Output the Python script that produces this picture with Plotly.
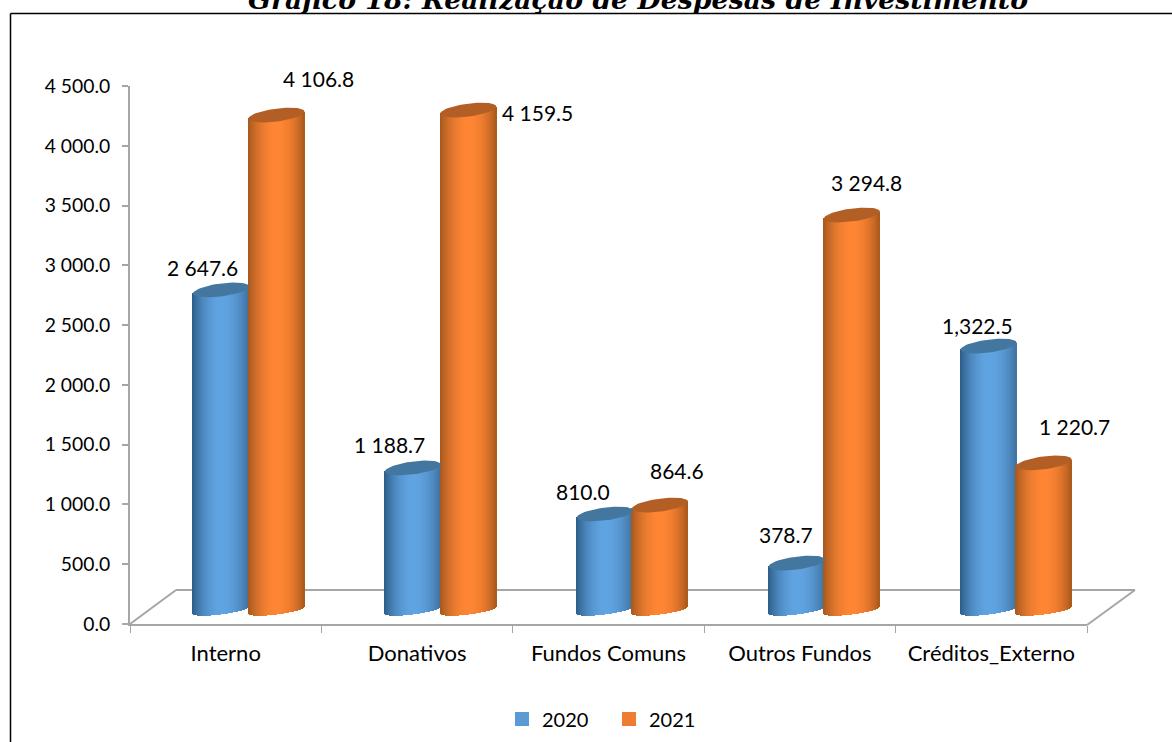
import math
import plotly.graph_objects as go

categories = ["Interno", "Donativos", "Fundos Comuns", "Outros Fundos", "Créditos_Externo"]
series_names = ["2020", "2021"]
heights_2020 = [2677, 1188, 803, 393, 2208]
heights_2021 = [4140, 4182, 878, 3304, 1230]
labels_2020 = ["2 647.6", "1 188.7", "810.0", "378.7", "1,322.5"]
labels_2021 = ["4 106.8", "4 159.5", "864.6", "3 294.8", "1 220.7"]
label_shift_2020 = [(-19, 22), (-23, 23), (-21, 23), (-9, 29), (-9, 21)]
label_shift_2021 = [(42, 37), (70, -2), (18, 35), (16, 33), (32, 36)]
y_ticks = [0, 500, 1000, 1500, 2000, 2500, 3000, 3500, 4000, 4500]
y_tick_text = ["0.0", "500.0", "1 000.0", "1 500.0", "2 000.0", "2 500.0", "3 000.0", "3 500.0", "4 000.0", "4 500.0"]

W, H = 1172, 742
L, R, T, B = 130, 1087, 86, 624
DX = 5 / (R - L)
DY = 4500 / (B - T)
FLOOR = 117
RX, RY, RY_BOTTOM, TILT = 28, 6.5, 4.5, 3.5
OFFS = [91.0, 146.5]
DRIFT = [0.5, 0.4]
DARKL = [(0x2e, 0x5c, 0x88), (0xa5, 0x58, 0x1f)]
DARKR = [(0x3a, 0x68, 0x94), (0x98, 0x50, 0x18)]
MID = [(0x60, 0xa4, 0xe2), (0xff, 0x86, 0x34)]
CAP = ["#44779f", "#b35e24"]
LEG = ["#5b9bd5", "#ed7d31"]
FONT = "Lato"
GREY = "#a6a6a6"


def shade(t, s):
    d = abs(t - 0.05) / 1.05
    f = min(1.0, d ** 2.0)
    e = DARKL[s] if t < 0.05 else DARKR[s]
    return "rgb(%d,%d,%d)" % tuple(MID[s][k] + (e[k] - MID[s][k]) * f for k in range(3))


fig = go.Figure()
anns = []
heights = [heights_2020, heights_2021]
labels = [labels_2020, labels_2021]
shifts = [label_shift_2020, label_shift_2021]

for s in range(2):
    xs, ys, bases, cols = [], [], [], []
    capx, capy = [], []
    for i in range(5):
        cx = i + (OFFS[s] + DRIFT[s] * i) * DX
        h = heights[s][i]
        top = FLOOR + h
        for j in range(2 * RX):
            t = (j + 0.5 - RX) / RX
            low = FLOOR + (TILT * t - RY_BOTTOM * math.sqrt(max(0, 1 - t * t))) * DY
            high = top + TILT * t * DY
            xs.append(cx + t * RX * DX)
            bases.append(low)
            ys.append(high - low)
            cols.append(shade(t, s))
        for a in range(61):
            th = 2 * math.pi * a / 60
            capx.append(cx + RX * math.cos(th) * DX)
            capy.append(top + (RY * math.sin(th) + TILT * math.cos(th)) * DY)
        capx.append(None)
        capy.append(None)
        anns.append(dict(x=i + OFFS[s] * DX, y=top, text=labels[s][i], showarrow=False,
                         xshift=shifts[s][i][0], yshift=shifts[s][i][1],
                         font=dict(family=FONT, size=21, color="#000")))
    fig.add_trace(go.Bar(x=xs, y=ys, base=bases, width=1.6 * DX, showlegend=False,
                         hoverinfo="skip",
                         marker=dict(color=cols, line=dict(width=0))))
    fig.add_trace(go.Scatter(x=capx, y=capy, mode="lines", fill="toself", fillcolor=CAP[s],
                             line=dict(width=0, color=CAP[s]), showlegend=False, hoverinfo="skip"))

for s in range(2):
    fig.add_trace(go.Scatter(x=[None], y=[None], mode="markers", name=series_names[s],
                             marker=dict(symbol="square", size=14, color=LEG[s])))


def px(x):
    return (x - L) / (R - L)


def py(y):
    return (B - y) / (B - T)


floor_lines = [(130, 624, 176, 590), (176, 590, 1135, 590), (1135, 590, 1087, 625)]
shapes = [dict(type="line", xref="paper", yref="paper", x0=px(a), y0=py(b), x1=px(c), y1=py(d),
               line=dict(color=GREY, width=2), layer="below") for a, b, c, d in floor_lines]
frame = [(10.5, 742, 10.5, 13.5), (10.5, 13.5, 1172, 13.5)]
shapes += [dict(type="line", xref="paper", yref="paper", x0=px(a), y0=py(b), x1=px(c), y1=py(d),
                line=dict(color="#000", width=1.5), layer="below") for a, b, c, d in frame]

anns.append(dict(xref="paper", yref="paper", x=px(638), y=py(-1), yanchor="middle", showarrow=False,
                 text="<b><i>Gráfico 18: Realização de Despesas de Investimento</i></b>",
                 font=dict(family="DejaVu Serif", size=26.8, color="#000")))

fig.update_layout(
    width=W, height=H, margin=dict(l=L, r=W - R, t=T, b=H - B, pad=0, autoexpand=False),
    paper_bgcolor="white", plot_bgcolor="rgba(0,0,0,0)", barmode="overlay", bargap=0,
    shapes=shapes, annotations=anns,
    font=dict(family=FONT, size=18, color="#000"),
    xaxis=dict(range=[0, 5], tickmode="array", tickvals=[i + 0.5 for i in range(5)], ticktext=categories,
               ticks="", ticklen=0, ticklabelstandoff=9, showgrid=False, zeroline=False,
               showline=True, linecolor=GREY, linewidth=2, fixedrange=True,
               tickfont=dict(family=FONT, size=22, color="#000"),
               minor=dict(tick0=0, dtick=1, ticks="outside", ticklen=7, tickcolor=GREY, tickwidth=1, showgrid=False)),
    yaxis=dict(range=[0, 4500], tickmode="array", tickvals=y_ticks, ticktext=y_tick_text,
               ticks="outside", ticklen=6, tickcolor=GREY, tickwidth=1.5, showgrid=False, zeroline=False,
               showline=True, linecolor=GREY, linewidth=2, fixedrange=True, ticklabelstandoff=8,
               tickfont=dict(family=FONT, size=19.3, color="#000")),
    legend=dict(orientation="h", xref="paper", yref="paper", x=px(609), y=py(719), xanchor="center", yanchor="middle",
                font=dict(family=FONT, size=20, color="#000"), entrywidth=62, entrywidthmode="pixels",
                bgcolor="rgba(0,0,0,0)"),
)

fig.write_html("out.html", config={"displayModeBar": False},
               post_script="document.body.style.margin='0';document.body.style.overflow='hidden';")
